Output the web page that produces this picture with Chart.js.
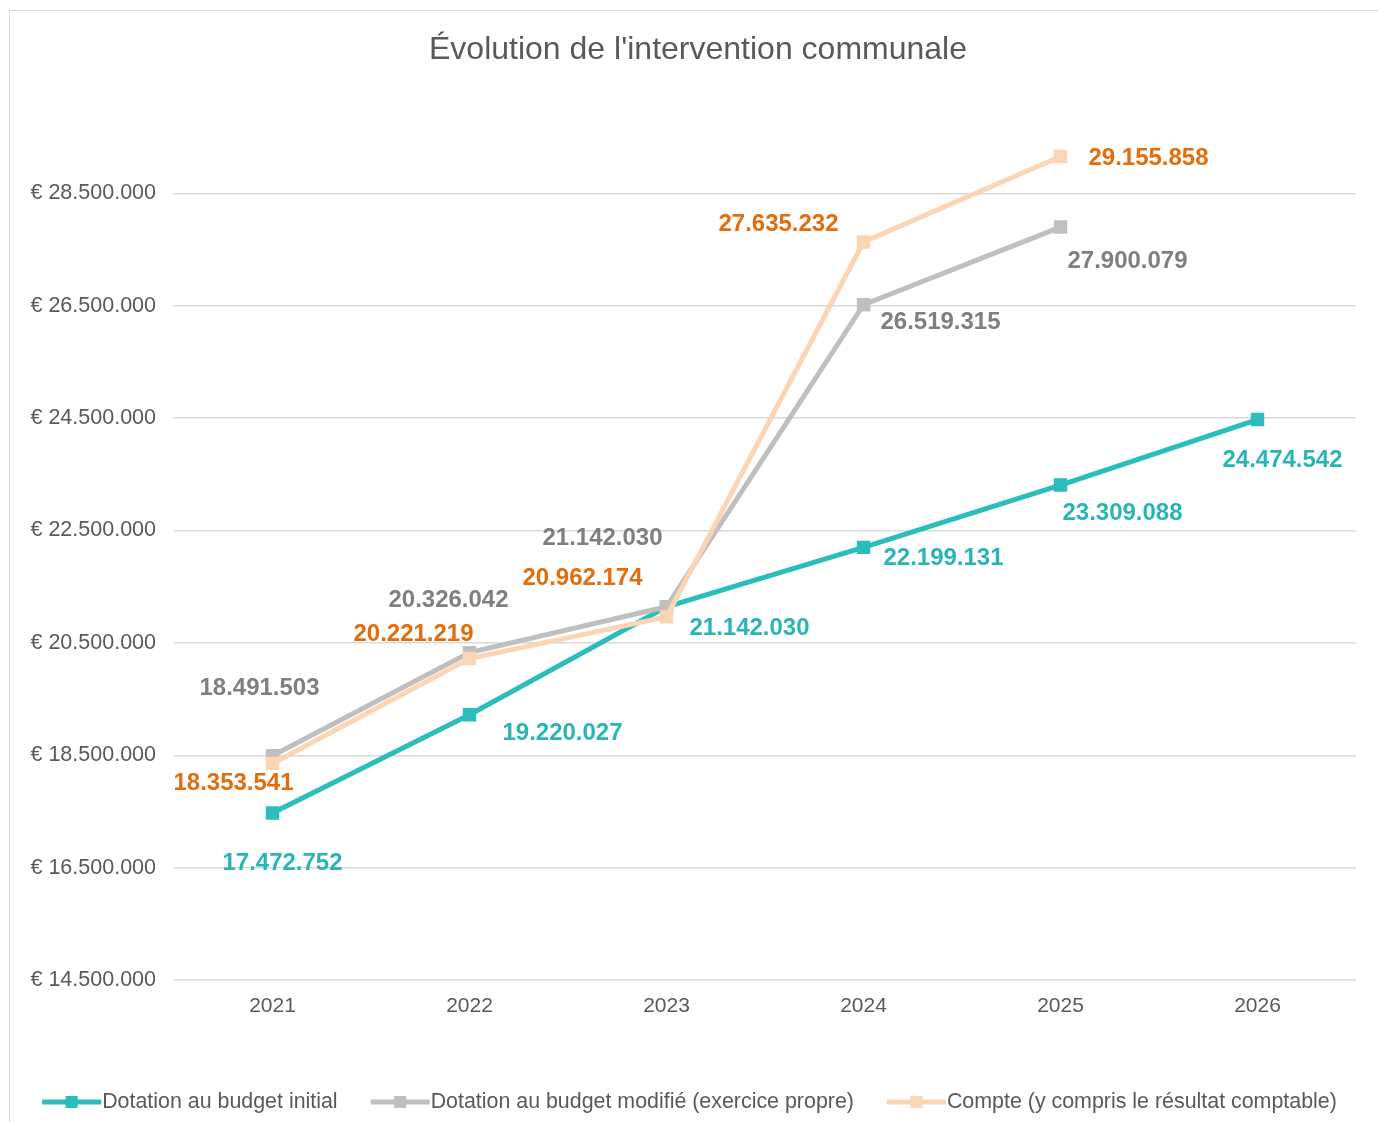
<!DOCTYPE html>
<html>
<head>
<meta charset="utf-8">
<script src="https://cdn.jsdelivr.net/npm/chart.js@4.4.1/dist/chart.umd.min.js"></script>
<style>
  html, body { margin: 0; padding: 0; background: #fff; overflow: hidden; }
  #frame { position: absolute; left: 9px; top: 10px; width: 1420px; height: 1200px; border: 1px solid #d9d9d9; }
  #wrap { position: absolute; left: 0; top: 0; width: 1378px; height: 1122px; }
</style>
</head>
<body>
<div id="frame"></div>
<div id="wrap"><canvas id="lineChart"></canvas></div>
<script>
const years = ['2021', '2022', '2023', '2024', '2025', '2026'];
const budgetInitial = [17472752, 19220027, 21142030, 22199131, 23309088, 24474542];
const budgetModifie = [18491503, 20326042, 21142030, 26519315, 27900079, null];
const compte = [18353541, 20221219, 20962174, 27635232, 29155858, null];
const yTickValues = [14500000, 16500000, 18500000, 20500000, 22500000, 24500000, 26500000, 28500000];

const chartTitle = "Évolution de l'intervention communale";
const seriesNames = [
    'Dotation au budget initial',
    'Dotation au budget modifié (exercice propre)',
    'Compte (y compris le résultat comptable)'
];

// label offsets from each point (dx, dy) - placement like in the spreadsheet
const labelOffsets = [
    [[10, 50], [93, 19], [83, 22], [80, 11], [62, 28], [25, 41]],
    [[-13, -67], [-21, -52], [-64, -68], [77, 18], [67, 34]],
    [[-39, 20], [-56, -24], [-84, -39], [-85, -18], [88, 2]]
];

const lineColors = ['#2bbcbc', '#bfbfbf', '#fcd5b4'];
const textColors = ['#2ab5b5', '#7f7f7f', '#e46c0a'];
const FONT = '"Liberation Sans", Arial, sans-serif';

function formatNumber(v) {
    return String(Math.round(v)).replace(/\B(?=(\d{3})+(?!\d))/g, '.');
}

const dataLabels = {
    id: 'dataLabels',
    afterDatasetsDraw(chart) {
        const ctx = chart.ctx;
        ctx.save();
        ctx.font = 'bold 24px ' + FONT;
        ctx.textAlign = 'center';
        ctx.textBaseline = 'middle';
        chart.data.datasets.forEach((ds, i) => {
            const meta = chart.getDatasetMeta(i);
            ctx.fillStyle = textColors[i];
            meta.data.forEach((pt, j) => {
                const v = ds.data[j];
                if (v === null || v === undefined) return;
                const off = labelOffsets[i][j];
                ctx.fillText(formatNumber(v), pt.x + off[0], pt.y + off[1]);
            });
        });
        ctx.restore();
    }
};

// title (centred on the outer frame) and bottom legend
const frameText = {
    id: 'frameText',
    afterDraw(chart) {
        const ctx = chart.ctx;
        ctx.save();
        ctx.fillStyle = '#595959';
        ctx.font = '32px ' + FONT;
        ctx.textAlign = 'center';
        ctx.textBaseline = 'middle';
        ctx.fillText(chartTitle, 698, 50);

        const iconW = 59, gap = 34, y = 1102;
        ctx.font = '21.4px ' + FONT;
        const widths = seriesNames.map(t => iconW + ctx.measureText(t).width);
        const total = widths.reduce((a, b) => a + b, 0) + gap * (widths.length - 1);
        let x = (chart.width - total) / 2;
        seriesNames.forEach((name, i) => {
            ctx.strokeStyle = lineColors[i];
            ctx.lineWidth = 5;
            ctx.beginPath();
            ctx.moveTo(x, y);
            ctx.lineTo(x + iconW, y);
            ctx.stroke();
            ctx.fillStyle = lineColors[i];
            ctx.fillRect(x + iconW / 2 - 6, y - 6, 12, 12);
            ctx.fillStyle = '#595959';
            ctx.textAlign = 'left';
            ctx.fillText(name, x + iconW + 1, y);
            x += widths[i] + gap;
        });
        ctx.restore();
    }
};

function makeDataset(label, data, idx, order) {
    return {
        label: label,
        data: data,
        borderColor: lineColors[idx],
        backgroundColor: lineColors[idx],
        borderWidth: 5,
        pointStyle: 'rect',
        pointRadius: 9.5,
        pointBorderWidth: 0,
        pointBackgroundColor: lineColors[idx],
        pointHoverRadius: 9.5,
        tension: 0,
        fill: false,
        order: order
    };
}

const config = {
    type: 'line',
    data: {
        labels: years,
        datasets: [
            makeDataset(seriesNames[0], budgetInitial, 0, 2),
            makeDataset(seriesNames[1], budgetModifie, 1, 1),
            makeDataset(seriesNames[2], compte, 2, 0)
        ]
    },
    options: {
        responsive: true,
        maintainAspectRatio: false,
        animation: false,
        layout: { padding: { left: 0, right: 22, top: 81, bottom: 0 } },
        plugins: {
            legend: { display: false },
            tooltip: { enabled: false },
            title: { display: false }
        },
        scales: {
            x: {
                offset: true,
                grid: { display: false },
                border: { display: false },
                ticks: {
                    color: '#595959',
                    padding: 6,
                    font: { family: FONT, size: 21 }
                },
                afterFit(scale) { scale.height = 142; }
            },
            y: {
                min: 14500000,
                max: 30500000,
                border: { display: false },
                grid: { color: '#d9d9d9', lineWidth: 1.5, drawTicks: false },
                ticks: {
                    color: '#595959',
                    padding: 18,
                    font: { family: FONT, size: 21.5 },
                    callback: value => '€ ' + formatNumber(value)
                },
                afterBuildTicks(scale) {
                    scale.ticks = yTickValues.map(v => ({ value: v }));
                },
                afterFit(scale) { scale.width = 174; }
            }
        }
    },
    plugins: [dataLabels, frameText]
};

new Chart(document.getElementById('lineChart').getContext('2d'), config);
</script>
</body>
</html>
